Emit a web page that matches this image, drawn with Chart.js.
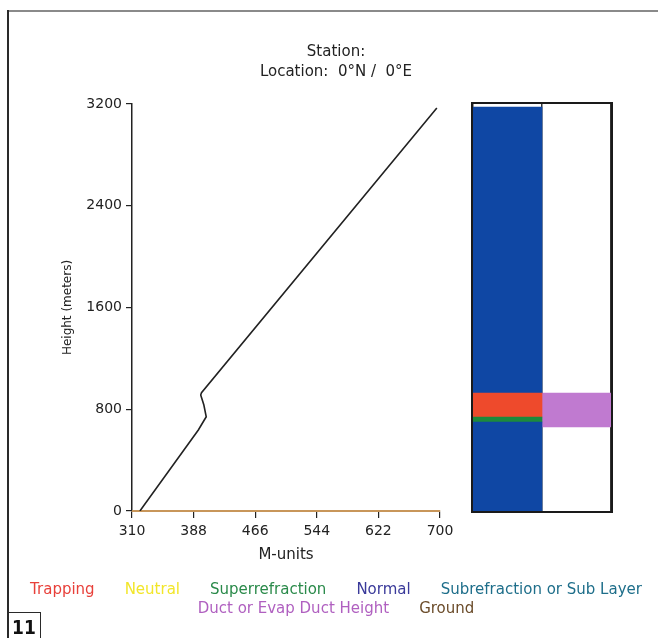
<!DOCTYPE html>
<html>
<head>
<meta charset="utf-8">
<script src="https://cdn.jsdelivr.net/npm/chart.js@4.4.1/dist/chart.umd.min.js"></script>
<style>
  html, body { margin: 0; padding: 0; background: #fff; }
  body { position: relative; width: 658px; height: 638px; overflow: hidden; font-family: "DejaVu Sans", sans-serif; }
  #profile { position: absolute; left: 0; top: 0; }
  #layerBox { position: absolute; left: 471px; top: 102px; width: 138px; height: 407px; border: 2px solid #1a1a1a; }
  #layers { display: block; }
  .frameTop { position: absolute; left: 7px; top: 10px; width: 651px; height: 2px; background: #8a8a8a; }
  .frameLeft { position: absolute; left: 7px; top: 10px; width: 2px; height: 628px; background: #2a2a2a; }
  .figNo { position: absolute; left: 7px; top: 612px; width: 32px; height: 26px; border: 1.5px solid #2a2a2a; border-bottom: none;
    font: bold 19px "Liberation Sans Narrow", "DejaVu Sans Condensed", sans-serif; text-align: center; line-height: 28px; color: #111; }
  .legendRow { position: absolute; left: 14px; right: 0; text-align: center; font-size: 15px; line-height: 19px; white-space: nowrap; }
  .legendRow span { margin: 0 15px; }
</style>
</head>
<body>
<div class="frameTop"></div>
<div class="frameLeft"></div>
<canvas id="profile" width="658" height="638"></canvas>
<div id="layerBox"><canvas id="layers" width="138" height="407"></canvas></div>
<div class="legendRow" id="legend1" style="top:580px"></div>
<div class="legendRow" id="legend2" style="top:599px"></div>
<div class="figNo">11</div>
<script>
// refractivity profile (M-units vs height in meters)
const mUnits = [320, 394, 404, 401, 397, 398, 696]
const heights = [0, 637, 741, 833, 912, 930, 3168]
const groundM = [310, 700]

const xTicks = [310, 388, 466, 544, 622, 700]
const yTicks = [0, 800, 1600, 2400, 3200]

// layer column (left) and duct column (right)
const layerNames = ["Normal", "Superrefraction", "Trapping", "Normal"]
const layerBottoms = [0, 700, 739, 928]
const layerTops = [700, 739, 928, 3176]
const ductBottom = 661
const ductTop = 928

const legendNames = ["Trapping", "Neutral", "Superrefraction", "Normal", "Subrefraction or Sub Layer", "Duct or Evap Duct Height", "Ground"]
const legendColors = ["#e8403a", "#f2e62a", "#2a8a4a", "#3a3a9a", "#1e6e8a", "#b060c0", "#6b4c2a"]
const layerColors = { Normal: "#0f47a4", Superrefraction: "#1d8a3c", Trapping: "#ee4a2c", Duct: "#c07ad0" }

const titleLines = ["Station:", "Location:  0°N /  0°E"]
const family = "DejaVu Sans"

new Chart(document.getElementById("profile"), {
  type: "scatter",
  data: {
    datasets: [
      {
        label: "M-profile",
        data: mUnits.map((m, i) => ({ x: m, y: heights[i] })),
        showLine: true,
        borderColor: "#222",
        borderWidth: 1.6,
        pointRadius: 0,
        tension: 0,
      },
      {
        label: "Ground",
        data: groundM.map((m) => ({ x: m, y: 0 })),
        showLine: true,
        borderColor: "#c8965a",
        borderWidth: 2,
        pointRadius: 0,
        clip: false,
      },
    ],
  },
  options: {
    responsive: false,
    animation: false,
    layout: { padding: { left: 14, right: 0, top: 0, bottom: 67 } },
    plugins: {
      legend: { display: false },
      tooltip: { enabled: false },
      title: {
        display: true,
        text: titleLines,
        color: "#222",
        font: { family: family, size: 15, weight: "normal", lineHeight: 1.333 },
        padding: { top: 42, bottom: 22 },
      },
    },
    scales: {
      x: {
        type: "linear",
        min: 310,
        max: 700,
        afterBuildTicks: (s) => { s.ticks = xTicks.map((v) => ({ value: v })) },
        afterFit: (s) => { s.height = 60 },
        ticks: { font: { family: family, size: 14 }, color: "#222", padding: 5, maxRotation: 0, autoSkip: false, callback: (v) => String(v) },
        grid: { drawOnChartArea: false, tickLength: 7, color: "#222", lineWidth: 1.2 },
        border: { color: "#b08a55", width: 1.5 },
        title: { display: true, text: "M-units", color: "#222", font: { family: family, size: 15 }, padding: { top: 0, bottom: 7 } },
      },
      y: {
        type: "linear",
        min: 0,
        max: 3200,
        afterBuildTicks: (s) => { s.ticks = yTicks.map((v) => ({ value: v })) },
        afterFit: (s) => { s.width = 118 },
        ticks: { font: { family: family, size: 14 }, color: "#222", padding: 4, callback: (v) => String(v) },
        grid: { drawOnChartArea: false, tickLength: 6, color: "#222", lineWidth: 1.2 },
        border: { color: "#222", width: 1.5 },
        title: { display: true, text: "Height (meters)", color: "#222", font: { family: family, size: 12 }, padding: { top: 47, bottom: 0 } },
      },
      yR: {
        position: "right",
        afterFit: (s) => { s.width = 218 },
        ticks: { display: false },
        grid: { display: false },
        border: { display: false },
      },
    },
  },
})

const layerSets = layerNames.map((name, i) => ({
  label: name,
  data: [[layerBottoms[i], layerTops[i]], null],
  backgroundColor: layerColors[name],
}))
layerSets.push({ label: "Duct", data: [null, [ductBottom, ductTop]], backgroundColor: layerColors.Duct })

new Chart(document.getElementById("layers"), {
  type: "bar",
  data: {
    labels: ["Layers", "Duct"],
    datasets: layerSets.map((d) => ({ ...d, grouped: false, barPercentage: 1, categoryPercentage: 1, borderWidth: 0 })),
  },
  options: {
    responsive: false,
    animation: false,
    layout: { padding: 0 },
    plugins: { legend: { display: false }, tooltip: { enabled: false } },
    scales: {
      x: {
        offset: true,
        z: 1,
        ticks: { display: false },
        grid: { offset: true, color: "#333", lineWidth: 1.5, drawTicks: false },
        border: { display: false },
      },
      y: { display: false, min: 0, max: 3200 },
    },
  },
})

const rows = [legendNames.slice(0, 5), legendNames.slice(5)]
rows.forEach((names, r) => {
  const row = document.getElementById("legend" + (r + 1))
  names.forEach((name) => {
    const span = document.createElement("span")
    span.textContent = name
    span.style.color = legendColors[legendNames.indexOf(name)]
    row.appendChild(span)
  })
})
</script>
</body>
</html>
